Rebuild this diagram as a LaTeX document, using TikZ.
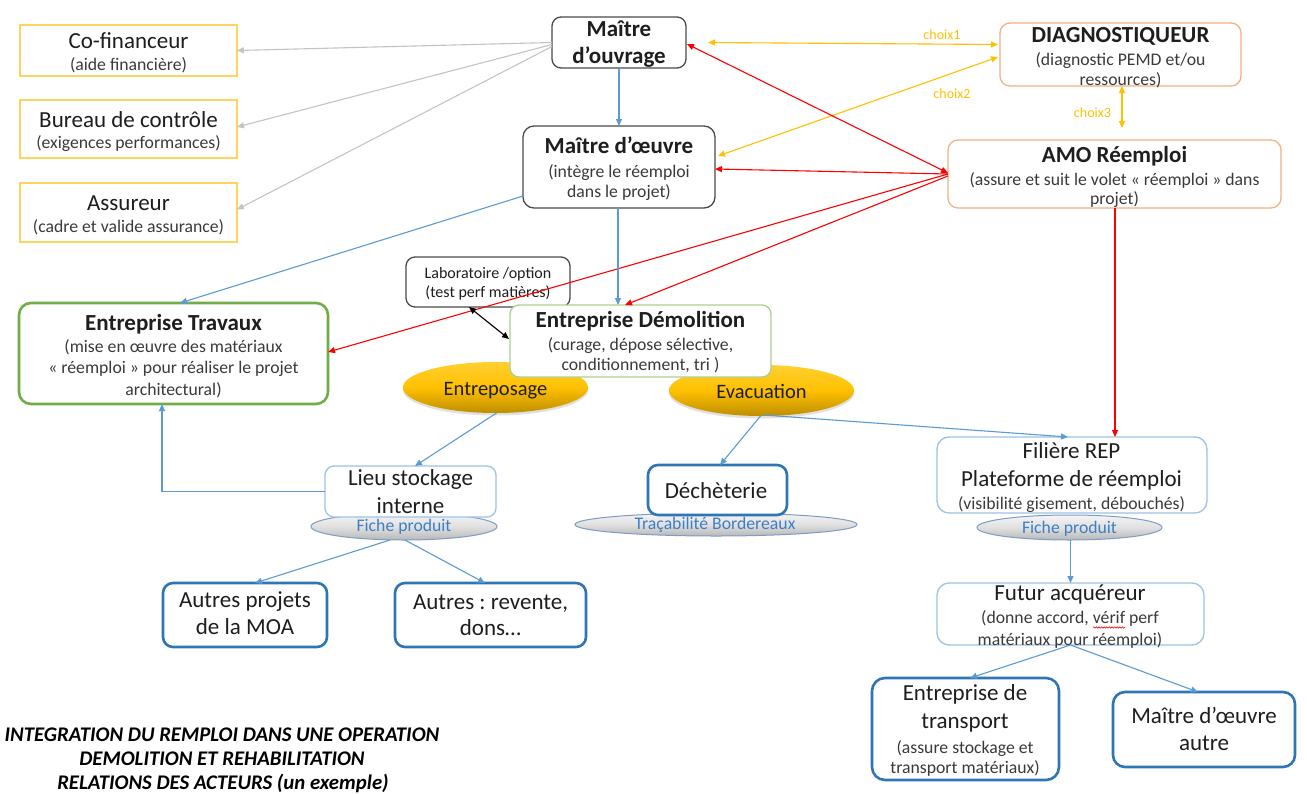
\documentclass[tikz,border=0pt]{standalone}
\usepackage{fontspec}
\setmainfont{Carlito}
\frenchspacing
\usetikzlibrary{arrows.meta,shapes.geometric,shadows,decorations.pathmorphing}
\definecolor{cgray}{HTML}{C4C4C4}
\definecolor{cyel}{HTML}{FFD45C}
\definecolor{carrowy}{HTML}{FFC000}
\definecolor{cdark}{HTML}{4A4A4A}
\definecolor{corange}{HTML}{F4B183}
\definecolor{cgreen}{HTML}{70AD47}
\definecolor{clgreen}{HTML}{A9D18E}
\definecolor{cblue}{HTML}{2E75B6}
\definecolor{clblue}{HTML}{9DC3E6}
\definecolor{cline}{HTML}{5B9BD5}
\definecolor{cred}{HTML}{FF0000}
\definecolor{ctxt}{HTML}{1E1E1E}
\definecolor{csub}{HTML}{3A3A3A}
\definecolor{cfiche}{HTML}{3E7EC4}
\definecolor{cell}{HTML}{7F9CC4}
\definecolor{goldtop}{RGB}{255,208,50}
\definecolor{goldmid}{RGB}{255,192,0}
\definecolor{goldbot}{RGB}{190,142,0}
\newcommand\szMain{\fontsize{23}{27}\selectfont}
\newcommand\szSub{\fontsize{17.7}{21}\selectfont}
\newcommand\szLab{\fontsize{16}{19}\selectfont}
\newcommand\szEll{\fontsize{20.5}{24}\selectfont}
\newcommand\szTitle{\fontsize{20.8}{24}\selectfont\bfseries\itshape}
\newcommand\szChoix{\fontsize{14}{16}\selectfont}
\begin{document}
\begin{tikzpicture}[x=1pt,y=-1pt,>={Triangle[length=7pt,width=6pt]},
  every node/.style={inner sep=0pt,outer sep=0pt},
  ybox/.style={draw=cyel,line width=1.5pt,fill=white},
  gbox/.style={draw=cdark,line width=1.3pt,fill=white,rounded corners=9pt},
  obox/.style={draw=corange,line width=1.3pt,fill=white,rounded corners=10pt},
  greenbox/.style={draw=cgreen,line width=2.6pt,fill=white,rounded corners=12pt},
  lgreenbox/.style={draw=clgreen,line width=1.3pt,fill=white,rounded corners=9pt},
  bbox/.style={draw=cblue,line width=2.6pt,fill=white,rounded corners=10pt},
  lbbox/.style={draw=clblue,line width=1.3pt,fill=white,rounded corners=9pt},
  goldell/.style={ellipse,draw=none,top color=goldtop,bottom color=goldbot,middle color=goldmid,
     drop shadow={shadow xshift=0pt,shadow yshift=-2.5pt,opacity=.2,fill=black!60}},
  grayell/.style={ellipse,draw=cell,line width=1pt,top color=black!4,bottom color=black!28,middle color=black!12},
  txA/.style={anchor=base,text=ctxt,font=\szMain},
  txB/.style={anchor=base,text=ctxt,font=\szMain\bfseries},
  txS/.style={anchor=base,text=csub,font=\szSub},
  txL/.style={anchor=base,text=ctxt,font=\szLab},
  txE/.style={anchor=base,text=ctxt,font=\szEll},
  txF/.style={anchor=base,text=cfiche,font=\szSub},
  txT/.style={anchor=base,text=black,font=\szTitle},
  txC/.style={anchor=base,text=carrowy,font=\szChoix},
  gline/.style={draw=cgray,line width=1.1pt,->},
  bline/.style={draw=cline,line width=1.1pt,->},
  rline/.style={draw=cred,line width=1.1pt,->},
  yline/.style={draw=carrowy,line width=1.1pt,<->},
  kline/.style={draw=black,line width=1.1pt,<->}
]
\useasboundingbox (0,0) rectangle (1307,793);
\fill[white] (0,0) rectangle (1307,793);

% ---------- ellipses ----------
\node[goldell,minimum width=185pt,minimum height=51pt] (entrep) at (495.5,387.5) {};
\node[goldell,minimum width=185pt,minimum height=51pt] (evac) at (761.5,390.5) {};
\node[grayell,minimum width=186pt,minimum height=27pt] (fiche1) at (404,526.5) {};
\node[grayell,minimum width=282pt,minimum height=23pt] (trac) at (716,524.5) {};
\node[grayell,minimum width=185pt,minimum height=25pt] (fiche2) at (1069.5,527.5) {};

% ---------- boxes ----------
\node[ybox,minimum width=217pt,minimum height=51pt] (cofi) at (128.5,50.5) {};
\node[ybox,minimum width=217pt,minimum height=58pt] (bureau) at (128.5,129) {};
\node[ybox,minimum width=217pt,minimum height=59pt] (assur) at (128.5,212.5) {};
\node[gbox,minimum width=134pt,minimum height=51pt] (moa) at (619,42.5) {};
\node[gbox,minimum width=192pt,minimum height=82pt,rounded corners=11pt] (moe) at (619,167) {};
\node[obox,minimum width=241pt,minimum height=63pt] (diag) at (1120.5,54.5) {};
\node[obox,minimum width=333pt,minimum height=68pt] (amo) at (1114.5,174) {};
\node[greenbox,minimum width=309pt,minimum height=101pt] (trav) at (173.5,353.5) {};
\node[gbox,minimum width=164pt,minimum height=50pt] (labo) at (488,282) {};
\node[lgreenbox,minimum width=261pt,minimum height=72pt] (demol) at (640.5,341) {};
\node[lbbox,minimum width=171pt,minimum height=51pt] (lieu) at (410.5,491.5) {};
\node[bbox,minimum width=139pt,minimum height=50pt] (dech) at (717.5,490) {};
\node[lbbox,minimum width=270pt,minimum height=76pt,rounded corners=12pt] (filiere) at (1072,475) {};
\node[lbbox,minimum width=267pt,minimum height=62pt,rounded corners=12pt] (futur) at (1070.5,614) {};
\node[bbox,minimum width=187pt,minimum height=102pt,rounded corners=13pt] (transp) at (965.5,729) {};
\node[bbox,minimum width=182pt,minimum height=75pt,rounded corners=12pt] (moeautre) at (1204,729.5) {};
\node[bbox,minimum width=164pt,minimum height=64pt] (autresp) at (245,615) {};
\node[bbox,minimum width=191pt,minimum height=64pt] (autresr) at (490.5,615) {};

% ---------- texts ----------
\node[txA] (cofiA) at (128.5,48) {Co-financeur};
\node[txS] (cofiB) at (128.5,70) {(aide financière)};
\node[txA] (bureauA) at (128.5,127) {Bureau de contrôle};
\node[txS] (bureauB) at (128.5,148) {(exigences performances)};
\node[txA] (assurA) at (128.5,210) {Assureur};
\node[txS] (assurB) at (128.5,232) {(cadre et valide assurance)};
\node[txB] (moaA) at (619,36) {Maître};
\node[txB] (moaB) at (619,63) {d’ouvrage};
\node[txB] (moeA) at (619,153) {Maître d’œuvre};
\node[txS] (moeB) at (619,177) {(intègre le réemploi};
\node[txS] (moeC) at (619,197) {dans le projet)};
\node[txB] (diagA) at (1120.5,42) {DIAGNOSTIQUEUR};
\node[txS] (diagB) at (1120.5,65) {(diagnostic PEMD et/ou};
\node[txS] (diagC) at (1120.5,85) {ressources)};
\node[txB] (amoA) at (1114.5,162) {AMO Réemploi};
\node[txS] (amoB) at (1114.5,185) {(assure et suit le volet « réemploi » dans};
\node[txS] (amoC) at (1114.5,204) {projet)};
\node[txB] (travA) at (173.5,330) {Entreprise Travaux};
\node[txS] (travB) at (173.5,352) {(mise en œuvre des matériaux};
\node[txS] (travC) at (173.5,373) {« réemploi » pour réaliser le projet};
\node[txS] (travD) at (173.5,395) {architectural)};
\node[txL] (laboA) at (488,278) {Laboratoire /option};
\node[txL] (laboB) at (488,297) {(test perf matières)};
\node[txB] (demolA) at (640.5,327) {Entreprise Démolition};
\node[txS] (demolB) at (640.5,350) {(curage, dépose sélective,};
\node[txS] (demolC) at (640.5,370) {conditionnement, tri )};
\node[txE] (entrepT) at (495.5,395) {Entreposage};
\node[txE] (evacT) at (761.5,398) {Evacuation};
\node[txA] (lieuA) at (410.5,485) {Lieu stockage};
\node[txA] (lieuB) at (410.5,513) {interne};
\node[txF] (fiche1T) at (404,531) {Fiche produit};
\node[txA] (dechT) at (716,498) {Déchèterie};
\node[txF] (tracT) at (715,529) {Traçabilité Bordereaux};
\node[txA] (filA) at (1071.5,458) {Filière REP};
\node[txA] (filB) at (1071.5,486) {Plateforme de réemploi};
\node[txS] (filC) at (1071.5,509) {(visibilité gisement, débouchés)};
\node[txF] (fiche2T) at (1069.5,533) {Fiche produit};
\node[txA] (futA) at (1070,600) {Futur acquéreur};
\node[txS] (futB) at (1070,623) {(donne accord, vérif perf};
\node[txS] (futC) at (1070,645) {matériaux pour réemploi)};
\node[txA] (trA) at (965,700) {Entreprise de};
\node[txA] (trB) at (965,728) {transport};
\node[txS] (trC) at (965,753) {(assure stockage et};
\node[txS] (trD) at (965,773) {transport matériaux)};
\node[txA] (maA) at (1204,723) {Maître d’œuvre};
\node[txA] (maB) at (1204,750) {autre};
\node[txA] (apA) at (245,607) {Autres projets};
\node[txA] (apB) at (245,634) {de la MOA};
\node[txA] (arA) at (490.5,609) {Autres : revente,};
\node[txA] (arB) at (490.5,635) {dons…};
\node[txT] (titA) at (222,741) {INTEGRATION DU REMPLOI DANS UNE OPERATION};
\node[txT] (titB) at (222,765) {DEMOLITION ET REHABILITATION};
\node[txT] (titC) at (223,789) {RELATIONS DES ACTEURS (un exemple)};
\node[txC] (ch1) at (942,39) {choix1};
\node[txC] (ch2) at (952,98) {choix2};
\node[txC] (ch3) at (1092.5,117) {choix3};

% spell-check squiggle
\draw[cred,line width=0.6pt,decorate,decoration={snake,amplitude=0.7pt,segment length=2.6pt}]
  (1093,627.5) -- (1125,627.5);

% ---------- connectors ----------
\draw[gline] (moa.west) -- (cofi.east);
\draw[gline] ([yshift=-2pt]moa.west) -- ([yshift=2pt]bureau.east);
\draw[gline] ([yshift=-4pt]moa.west) -- ([yshift=3pt]assur.east);
\draw[bline] (moa.south) -- (moe.north);
\draw[yline] ([xshift=22pt]moa.east) -- ([xshift=-2pt,yshift=10pt]diag.west);
\draw[yline] ([xshift=3pt,yshift=11pt]moe.east) -- ([xshift=-2pt,yshift=-2.5pt]diag.west);
\draw[yline] ([xshift=1.5pt]diag.south) -- ([xshift=7.5pt,yshift=12pt]amo.north);
\draw[rline,<->] ([yshift=1pt]amo.west) -- ([xshift=1pt,yshift=-1.5pt]moa.east);
\draw[rline] (amo.west) -- ([yshift=-2pt]moe.east);
\draw[rline] (amo.west) -- ([yshift=1.5pt]trav.east);
\draw[rline] ([yshift=-2pt]amo.west) -- ([xshift=-15.5pt]demol.north);
\draw[rline] ([xshift=0.5pt]amo.south) -- ([xshift=43pt]filiere.north);
\draw[bline] ([yshift=-29pt]moe.west) -- ([xshift=6.5pt]trav.north);
\draw[bline] ([xshift=-1pt]moe.south) -- ([xshift=-22.5pt]demol.north);
\draw[kline] ([xshift=-19pt]labo.south) -- ([xshift=-1pt,yshift=2pt]demol.west);
\draw[bline] ([xshift=1pt]entrep.south) -- ([xshift=4.5pt]lieu.north);
\draw[bline] (lieu.west) -| ([xshift=-11.5pt]trav.south);
\draw[bline] ([xshift=-1pt]evac.south) -- ([xshift=2.5pt]dech.north);
\draw[bline] ([xshift=2pt,yshift=1pt]evac.south) -- ([xshift=-4pt]filiere.north);
\draw[bline] ([xshift=-14pt]fiche1.south) -- ([xshift=10pt]autresp.north);
\draw[bline] ([xshift=1pt]fiche1.south) -- ([xshift=-5.5pt]autresr.north);
\draw[bline] ([xshift=1pt]fiche2.south) -- (futur.north);
\draw[bline] (futur.south) -- ([xshift=4.5pt]transp.north);
\draw[bline] (futur.south) -- ([xshift=-6pt]moeautre.north);
\end{tikzpicture}
\end{document}
